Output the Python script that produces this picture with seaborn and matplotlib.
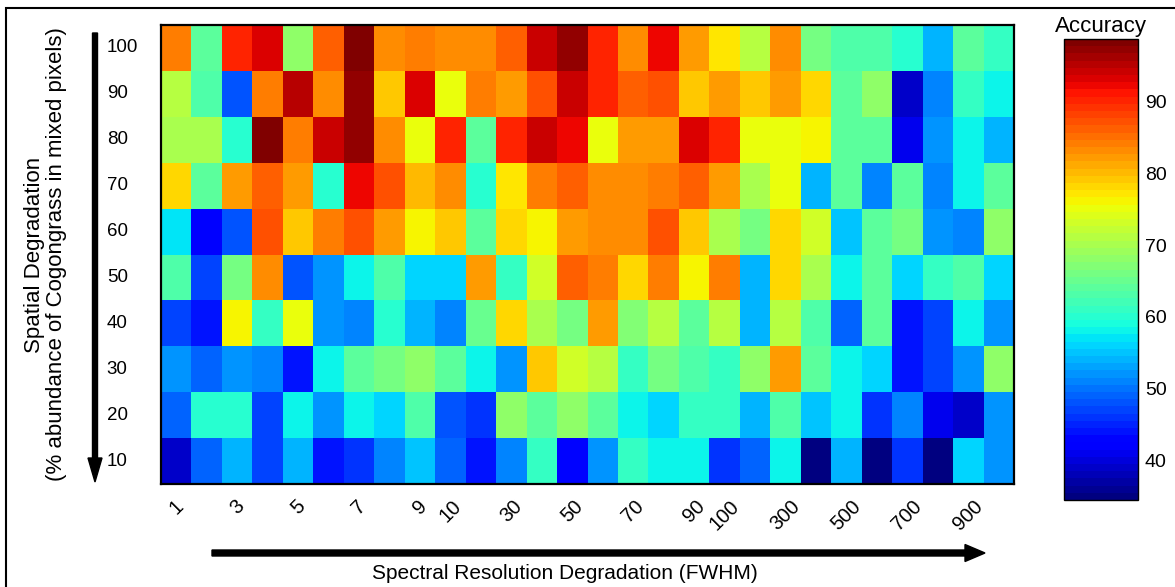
import numpy as np
import pandas as pd
import matplotlib
matplotlib.use("Agg")
import matplotlib.pyplot as plt
from matplotlib.patches import FancyArrow, Rectangle
from matplotlib.transforms import IdentityTransform
import seaborn as sns

# ---------------- data ----------------
fwhm = [1, 2, 3, 4, 5, 6, 7, 8, 9, 10,
        20, 30, 40, 50, 60, 70, 80, 90, 100,
        200, 300, 400, 500, 600, 700, 800, 900, 1000]
shown_fwhm = [1, 3, 5, 7, 9, 10, 30, 50, 70, 90, 100, 300, 500, 700, 900]
abundance = [100, 90, 80, 70, 60, 50, 40, 30, 20, 10]
cbar_ticks = [40, 50, 60, 70, 80, 90]

acc_100 = [84.5, 64, 90, 93, 68.5, 86.5, 98.7, 83.5, 84.5, 83.5, 83.5, 86.5, 94, 97,
           90, 83.5, 92.5, 82, 77, 71.5, 83.5, 66, 63, 63, 59.7, 54.5, 64.3, 61]
acc_90 = [71.5, 63.5, 48.5, 84.5, 94.7, 83.5, 97, 79.5, 93, 75.5, 84.5, 82, 87.5, 94,
          90, 85.8, 87.5, 79.5, 82, 79.5, 82, 78.5, 64, 68.5, 39, 51, 61, 58]
acc_80 = [70.5, 70.5, 59.7, 98.3, 84.5, 94, 97, 83.5, 75.5, 90, 64, 90, 94, 92.5,
          75.5, 82, 82, 93, 90.5, 75.5, 75.5, 76.5, 64, 64, 41, 52, 58, 54.5]
acc_70 = [78.5, 64, 82, 86.3, 82, 59.7, 92.5, 87.5, 79.7, 83.5, 60.5, 77, 84.5, 86.5,
          83.5, 83.5, 84.5, 86.5, 82, 70.5, 75.5, 54.5, 64, 51, 64, 51, 58, 64]
acc_60 = [57, 42, 48, 87.5, 79.5, 84.5, 87.5, 82, 76.5, 79.5, 64, 78.5, 76.5, 82,
          83.5, 83.5, 87.5, 79.5, 70.5, 66, 78.5, 73.5, 55.5, 64, 66, 52.5, 51, 68.5]
acc_50 = [63.5, 47.5, 66, 83.5, 48.5, 52, 58, 63, 56, 56, 82, 61, 73.5, 86.5,
          84.5, 78.5, 84.5, 76.5, 84.5, 54.5, 78.5, 70.5, 58, 64.3, 56, 61, 63, 56]
acc_40 = [47, 44, 76.5, 61, 75.5, 52, 51, 59.7, 54.5, 51, 65.3, 78.5, 70.5, 66,
          82, 67.5, 71.5, 64.3, 71.5, 54.5, 71.5, 63, 49, 64, 44, 47.5, 58, 52]
acc_30 = [52, 49, 52, 51, 44.5, 58.5, 64, 66, 68.5, 64, 58, 52, 79.5, 73.5,
          71.5, 61, 66, 63.5, 61, 68, 82, 64.3, 58, 56, 44, 47.5, 52, 68]
acc_20 = [49, 59.7, 59.7, 47, 58, 52, 58, 56, 63.5, 48.5, 46.5, 68.5, 64.3, 68.5,
          64.3, 58.5, 56, 61, 61, 54, 63.5, 55, 58, 46.5, 51, 41.5, 39, 52.5]
acc_10 = [39, 49.5, 54.5, 47.5, 54.5, 44.5, 46.5, 51, 55, 49.5, 44, 51, 61, 43.5,
          52, 61, 58, 58, 46.5, 49.5, 58, 34.5, 54.5, 35, 46.5, 34.5, 56, 52.5]

# ---------------- style ----------------
sns.set_theme(style="white")
plt.rcParams["font.family"] = ["Liberation Sans", "DejaVu Sans"]
plt.rcParams["text.color"] = "black"
plt.rcParams["axes.labelcolor"] = "black"
plt.rcParams["xtick.color"] = "black"
plt.rcParams["ytick.color"] = "black"

data = pd.DataFrame([acc_100, acc_90, acc_80, acc_70, acc_60,
                     acc_50, acc_40, acc_30, acc_20, acc_10],
                    index=abundance, columns=fwhm)

W, H = 1175, 587
fig = plt.figure(figsize=(W / 100, H / 100), dpi=100)
ax = fig.add_axes([161 / W, 1 - 484 / H, 853 / W, 459 / H])
cax = fig.add_axes([1064 / W, 1 - 500 / H, 74 / W, 461 / H])

cmap = plt.get_cmap("jet", 64)
sns.heatmap(data, ax=ax, cbar_ax=cax, cmap=cmap, linewidths=0,
            xticklabels=True, yticklabels=True)

# x ticks: labels at the selected FWHM columns, small marks every 5 columns
pos = [fwhm.index(v) + 0.5 for v in shown_fwhm]
ax.set_xticks(pos)
ax.set_xticklabels([str(v) for v in shown_fwhm], rotation=45,
                   ha="center", va="top", fontsize=14.5)
ax.set_xticks([i + 0.5 for i in range(4, len(fwhm), 5)], minor=True)
ax.tick_params(axis="x", which="major", length=0, pad=9)
ax.tick_params(axis="x", which="minor", direction="in", length=4, width=1,
               top=True, bottom=True, color="black")

# y ticks
ax.set_yticks([i + 0.5 for i in range(len(abundance))])
ax.set_yticklabels([str(v) for v in abundance], rotation=0, fontsize=13.5)
ax.tick_params(axis="y", which="major", direction="in", length=6, width=1,
               left=True, right=True, pad=39, color="black")
for t in ax.get_yticklabels():
    t.set_horizontalalignment("left")

for s in ax.spines.values():
    s.set_visible(True)
    s.set_linewidth(1.6)
    s.set_color("black")

ax.set_ylabel("Spatial Degradation\n(% abundance of Cogongrass in mixed pixels)",
              fontsize=16, linespacing=1.05)
ax.yaxis.set_label_coords((67 - 161) / 853, 0.5)
ax.set_xlabel("Spectral Resolution Degradation (FWHM)", fontsize=15)
ax.xaxis.set_label_coords((565 - 161) / 853, (484 - 564) / 459)

# colorbar
cbar = ax.collections[0].colorbar
cbar.set_ticks(cbar_ticks)
cbar.ax.tick_params(axis="y", direction="in", length=6, width=1,
                    left=True, right=True, labelsize=14, pad=5, color="black")
cbar.outline.set_visible(True)
cbar.outline.set_linewidth(1.0)
cbar.outline.set_edgecolor("black")
cax.set_title("Accuracy", fontsize=16, pad=5)

# arrows (pixel coordinates)
tr = IdentityTransform()
fig.add_artist(FancyArrow(95, H - 33, 0, -(482 - 33), width=5, head_width=14,
                          head_length=24, length_includes_head=True,
                          color="black", transform=tr))
fig.add_artist(FancyArrow(212, H - 553, 985 - 212, 0, width=6, head_width=17,
                          head_length=20, length_includes_head=True,
                          color="black", transform=tr))
# figure frame (partially cropped on the right/bottom)
fig.add_artist(Rectangle((6, -20), W + 40, H - 8 + 20, fill=False,
                         linewidth=1.5, edgecolor="black", transform=tr))

fig.savefig("out.png", dpi=100)
